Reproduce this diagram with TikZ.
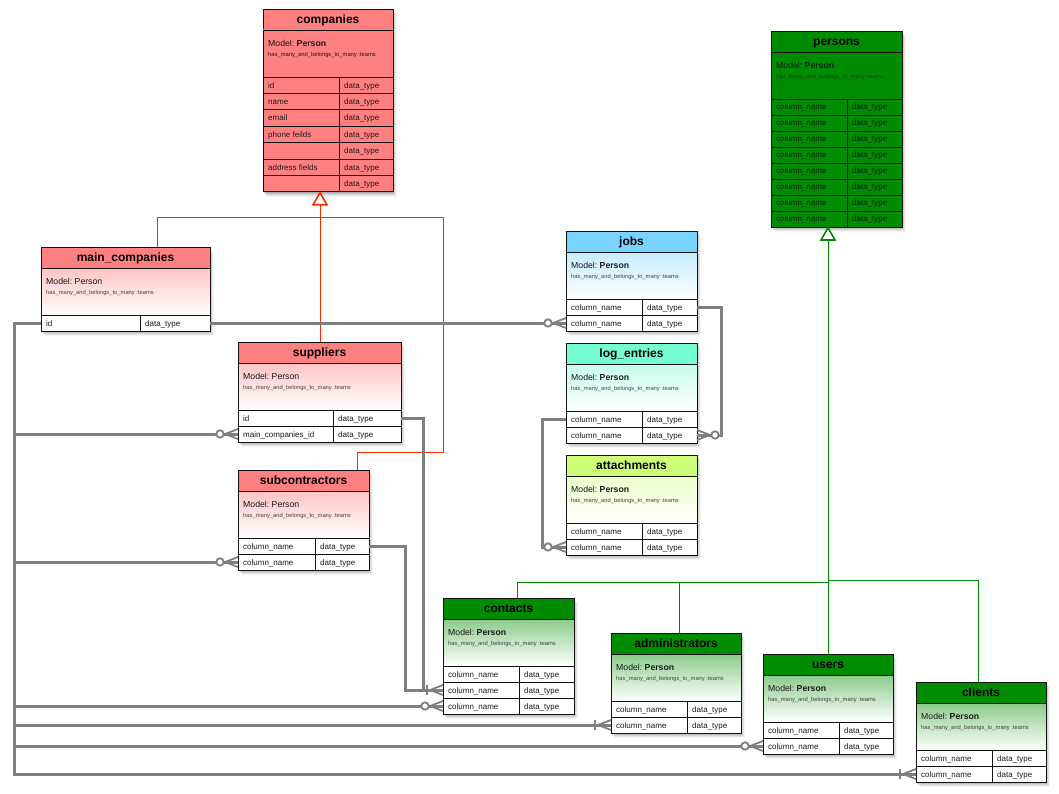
\documentclass[tikz,border=0pt]{standalone}
\usepackage{fontspec}
\setmainfont{Liberation Sans}
\usetikzlibrary{calc}
\definecolor{erRed}{HTML}{FF8080}
\definecolor{erRedL}{HTML}{FFC4C4}
\definecolor{erGreen}{HTML}{008C00}
\definecolor{erGreenL}{HTML}{8CCB8C}
\definecolor{erBlue}{HTML}{78D3FF}
\definecolor{erBlueL}{HTML}{C4ECFF}
\definecolor{erAqua}{HTML}{74FCD2}
\definecolor{erAquaL}{HTML}{C6FDEC}
\definecolor{erLime}{HTML}{CCFF77}
\definecolor{erLimeL}{HTML}{EBFFC8}
\definecolor{erLine}{HTML}{7F7F7F}
\definecolor{erInhRed}{HTML}{FF2A00}
\definecolor{erBorder}{HTML}{111111}
\definecolor{erText}{HTML}{1A1A1A}
\definecolor{erSmall}{HTML}{444444}
\definecolor{erSmallDark}{HTML}{1A3A1A}
\def\erTC{erRed}\def\erMT{white}\def\erMB{white}\def\erRC{white}\def\erRH{16}\def\erPF{\bfseries}\def\erSC{erSmall}
\newcommand\erTitleFont{\fontsize{12}{14}\selectfont\bfseries}
\newcommand\erModelFont{\fontsize{8.7}{10}\selectfont}
\newcommand\erSmallFont{\fontsize{5.8}{7}\selectfont}
\newcommand\erRowFont{\fontsize{8}{10}\selectfont}
\tikzset{
 titlecol/.code={\def\erTC{#1}}, modeltop/.code={\def\erMT{#1}},
 modelbot/.code={\def\erMB{#1}}, rowcol/.code={\def\erRC{#1}},
 rowh/.code={\def\erRH{#1}}, plainmodel/.code={\def\erPF{\mdseries}},
 smallcol/.code={\def\erSC{#1}},
 redparent/.style={titlecol=erRed,modeltop=erRed,modelbot=erRed,rowcol=erRed,rowh=16.4,smallcol=erText},
 redchild/.style={titlecol=erRed,modeltop=erRedL,modelbot=white,rowcol=white,plainmodel},
 greenparent/.style={titlecol=erGreen,modeltop=erGreen,modelbot=erGreen,rowcol=erGreen,smallcol=erSmallDark},
 greenchild/.style={titlecol=erGreen,modeltop=erGreenL,modelbot=white,rowcol=white},
 bluechild/.style={titlecol=erBlue,modeltop=erBlueL,modelbot=white,rowcol=white},
 aquachild/.style={titlecol=erAqua,modeltop=erAquaL,modelbot=white,rowcol=white},
 limechild/.style={titlecol=erLime,modeltop=erLimeL,modelbot=white,rowcol=white},
 rowtext/.style={inner sep=0,anchor=base west,font=\erRowFont,text=erText},
 rel/.style={draw=erLine,line width=3},
 crow/.style={draw=erLine,line width=1.8},
 inhred/.style={draw=erInhRed,line width=1},
 inhgreen/.style={draw=erGreen,line width=1},
}
% #1 style, #2 name, #3 x, #4 y, #5 width, #6 column offset, #7 title, #8 rows, #9 row list
\newcommand\erTable[9]{%
\begin{scope}[#1]
\pgfmathsetmacro\erH{68+#8*\erRH}%
\foreach \k/\o in {1/0.10,2/0.09,3/0.08,4/0.06,5/0.04}{\fill[black,opacity=\o] ({#3+0.7*\k},{#4+\k}) rectangle ++(#5,\erH);}%
\node[inner sep=0,outer sep=0,minimum width=#5,minimum height=\erH,anchor=north west] (#2) at (#3,#4) {};%
\path[draw=erBorder,line width=0.9,fill=\erTC] (#3,#4) rectangle ++(#5,21);%
\node[inner sep=0,anchor=base,font=\erTitleFont] at ({#3+#5/2},{#4+14.5}) {#7};%
\path[draw=erBorder,line width=0.9,top color=\erMT,bottom color=\erMB] (#3,{#4+21}) rectangle ++(#5,47);%
\node[inner sep=0,anchor=base west,font=\erModelFont,text=erText] at ({#3+5},{#4+37.5}) {Model:\hspace{2.4pt}{\erPF Person}};%
\node[inner sep=0,anchor=base west,font=\erSmallFont,text=\erSC] at ({#3+5},{#4+47.5}) {has\_many\_and\_belongs\_to\_many :teams};%
\foreach \a/\b [count=\i] in {#9}{%
 \node[draw=erBorder,line width=0.9,fill=\erRC,inner sep=0,outer sep=0,minimum width=#5,minimum height=\erRH,anchor=north west] (#2-\i) at (#3,{#4+68+(\i-1)*\erRH}) {};
 \draw[erBorder,line width=0.9] ({#3+#6},{#4+68+(\i-1)*\erRH}) -- ++(0,\erRH);
 \node[rowtext] at ({#3+5},{#4+68+(\i-0.5)*\erRH+3}) {\a};
 \node[rowtext] at ({#3+#6+5},{#4+68+(\i-0.5)*\erRH+3}) {\b};
}%
\end{scope}}
\newcommand\zeroMany[2]{%
\begin{scope}[shift={(#1)},xscale=#2]
\draw[crow] (-13,0) -- (0,-5) (-13,0) -- (0,0) (-13,0) -- (0,5);
\draw[crow,fill=white] (-18,0) circle (3.7);
\end{scope}}
\newcommand\oneMany[2]{%
\begin{scope}[shift={(#1)},xscale=#2]
\draw[crow] (-13,0) -- (0,-5) (-13,0) -- (0,0) (-13,0) -- (0,5);
\draw[crow] (-16,-5) -- (-16,5);
\end{scope}}
\begin{document}
\begin{tikzpicture}[x=1pt,y=-1pt]
\useasboundingbox (0,0) rectangle (1059,794);
\fill[white] (0,0) rectangle (1059,794);

\erTable{redparent}{companies}{263}{9}{130}{76}{companies}{7}{id/data\_type, name/data\_type, email/data\_type, phone feilds/data\_type, {}/data\_type, address fields/data\_type, {}/data\_type}
\erTable{greenparent}{persons}{771}{31}{131}{76}{persons}{8}{column\_name/data\_type, column\_name/data\_type, column\_name/data\_type, column\_name/data\_type, column\_name/data\_type, column\_name/data\_type, column\_name/data\_type, column\_name/data\_type}
\erTable{redchild}{maincompanies}{41}{247}{169}{99}{main\_companies}{1}{id/data\_type}
\erTable{redchild}{suppliers}{238}{342}{163}{95}{suppliers}{2}{id/data\_type, main\_companies\_id/data\_type}
\erTable{redchild}{subcontractors}{238}{470}{131}{77}{subcontractors}{2}{column\_name/data\_type, column\_name/data\_type}
\erTable{bluechild}{jobs}{566}{231}{131}{76}{jobs}{2}{column\_name/data\_type, column\_name/data\_type}
\erTable{aquachild}{logentries}{566}{343}{131}{76}{log\_entries}{2}{column\_name/data\_type, column\_name/data\_type}
\erTable{limechild}{attachments}{566}{455}{131}{76}{attachments}{2}{column\_name/data\_type, column\_name/data\_type}
\erTable{greenchild}{contacts}{443}{598}{131}{76}{contacts}{3}{column\_name/data\_type, column\_name/data\_type, column\_name/data\_type}
\erTable{greenchild}{administrators}{611}{633}{130}{76}{administrators}{2}{column\_name/data\_type, column\_name/data\_type}
\erTable{greenchild}{users}{763}{654}{130}{76}{users}{2}{column\_name/data\_type, column\_name/data\_type}
\erTable{greenchild}{clients}{916}{682}{130}{76}{clients}{2}{column\_name/data\_type, column\_name/data\_type}

% inheritance: companies
\coordinate (cTip) at ($(companies.south west)+(57,1)$);
\coordinate (cBase) at ($(cTip)+(0,12)$);
\coordinate (cJ) at ($(cTip)+(0,25)$);
\draw[inhred] (cBase) -- (cBase |- suppliers.north);
\draw[inhred] (cJ) -| ($(maincompanies.north west)+(116,0)$);
\draw[inhred] (cJ) -| ($(cJ)+(123,235)$) -| ($(subcontractors.north west)+(119,0)$);
\draw[inhred,line width=1.6,fill=white] (cTip) -- ++(7,12) -- ++(-14,0) -- cycle;

% inheritance: persons
\coordinate (pTip) at ($(persons.south west)+(57,1)$);
\coordinate (pBase) at ($(pTip)+(0,12)$);
\coordinate (gJ) at (828,582);
\draw[inhgreen] (pBase) -- (pBase |- users.north);
\draw[inhgreen] (gJ) -| ($(contacts.north west)+(74,0)$);
\draw[inhgreen] ($(administrators.north west)+(68,0)$) |- (gJ);
\draw[inhgreen] ($(gJ)+(0,-2)$) -| ($(clients.north west)+(62,0)$);
\draw[inhgreen,line width=1.6,fill=white] (pTip) -- ++(7,12) -- ++(-14,0) -- cycle;

% relations
\coordinate (busL) at (14,0);
\draw[rel] (maincompanies-1.east) -- (jobs-2.west);
\draw[rel] (maincompanies-1.west) -- (busL |- maincompanies-1.west) |- (suppliers-2.west);
\draw[rel] (maincompanies-1.west) -- (busL |- maincompanies-1.west) |- (subcontractors-2.west);
\draw[rel] (maincompanies-1.west) -- (busL |- maincompanies-1.west) |- (contacts-3.west);
\draw[rel] (maincompanies-1.west) -- (busL |- maincompanies-1.west) |- (administrators-2.west);
\draw[rel] (maincompanies-1.west) -- (busL |- maincompanies-1.west) |- (users-2.west);
\draw[rel] (maincompanies-1.west) -- (busL |- maincompanies-1.west) |- (clients-2.west);
\draw[rel] (suppliers-1.east) -- ++(22,0) |- (contacts-2.west);
\draw[rel] (subcontractors-1.east) -- ++(36,0) |- (contacts-2.west);
\draw[rel] (jobs-1.east) -- ++(24,0) |- (logentries-2.east);
\draw[rel] (logentries-1.west) -- ++(-24,0) |- (attachments-2.west);

\zeroMany{jobs-2.west}{1}
\zeroMany{suppliers-2.west}{1}
\zeroMany{subcontractors-2.west}{1}
\zeroMany{contacts-3.west}{1}
\oneMany{administrators-2.west}{1}
\zeroMany{users-2.west}{1}
\oneMany{clients-2.west}{1}
\oneMany{contacts-2.west}{1}
\zeroMany{logentries-2.east}{-1}
\zeroMany{attachments-2.west}{1}
\end{tikzpicture}
\end{document}
